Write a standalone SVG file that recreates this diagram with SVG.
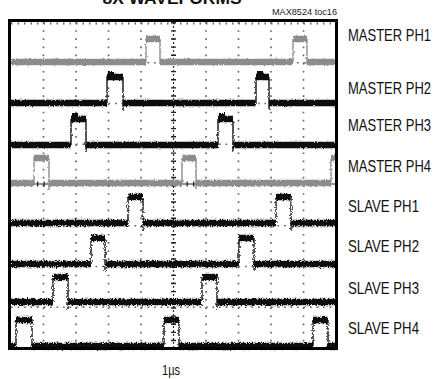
<svg xmlns="http://www.w3.org/2000/svg" width="437" height="379" viewBox="0 0 437 379">
<style>
.lbl{font-family:"Liberation Sans",Arial,sans-serif;font-size:17px;fill:#111}
.sm{font-family:"Liberation Sans",Arial,sans-serif;font-size:8.5px;fill:#222}
.ttl{font-family:"Liberation Sans",Arial,sans-serif;font-size:17px;font-weight:bold;fill:#111}
.gv{stroke:#666;stroke-width:1.7;stroke-dasharray:1.7 6.45;fill:none}
.gh{stroke:#666;stroke-width:1.7;stroke-dasharray:1.7 4.8;fill:none}
.gy{stroke:#8c8c8c;fill:none}
.bk{stroke:#111;fill:none}
.band{stroke-width:6.5}
.edge{stroke-width:1.4}
</style>
<defs>
<filter id="jit" filterUnits="userSpaceOnUse" x="0" y="0" width="437" height="379">
<feTurbulence type="fractalNoise" baseFrequency="0.9 0.45" numOctaves="1" seed="4" result="t"/>
<feDisplacementMap in="SourceGraphic" in2="t" scale="3" xChannelSelector="R" yChannelSelector="G"/>
</filter>
<filter id="jit2" filterUnits="userSpaceOnUse" x="0" y="0" width="437" height="379">
<feTurbulence type="fractalNoise" baseFrequency="1.2 0.6" numOctaves="2" seed="9" result="t"/>
<feDisplacementMap in="SourceGraphic" in2="t" scale="5" xChannelSelector="R" yChannelSelector="G"/>
</filter>
</defs>
<text class="ttl" x="172" y="3.5" text-anchor="middle" textLength="139" lengthAdjust="spacingAndGlyphs">8X WAVEFORMS</text>
<text class="sm" x="337" y="15" text-anchor="end" textLength="65" lengthAdjust="spacingAndGlyphs">MAX8524 toc16</text>
<g id="grid">
<rect x="11" y="22" width="325" height="326" fill="#fff"/>
<path class="gv" d="M43.5 22V348M76 22V348M108.5 22V348M141 22V348M206 22V348M238.5 22V348M271 22V348M303.5 22V348"/>
<path class="gh" d="M11 62.75H336M11 103.5H336M11 144.25H336M11 225.75H336M11 266.5H336M11 307.25H336"/>
<path d="M11 23.5H336" stroke="#666" stroke-width="2" stroke-dasharray="1.5 5" fill="none"/>
<path d="M173.5 22V348" stroke="#333" stroke-width="1.2" stroke-dasharray="2 2" fill="none"/>
<path d="M173.5 22V348" stroke="#222" stroke-width="5" stroke-dasharray="1.4 6.75" fill="none"/>
<path d="M11 184H336" stroke="#222" stroke-width="1.2" fill="none"/>
<path d="M11 184H336" stroke="#222" stroke-width="5" stroke-dasharray="1.3 5.2" fill="none"/>
</g>
<g id="traces">
<g id="master-ph1" class="gy" filter="url(#jit)">
<path class="band" d="M11 62H146M160 62H293M307 62H336M146 39H160M293 39H307"/>
<path class="edge" d="M146 62V39M160 39V64M293 62V39M307 39V64"/>
</g>
<g id="master-ph2" class="bk" filter="url(#jit)">
<path class="band" stroke-width="7.5" d="M11 103H107M123 103H256M269 103H336M107 77H123M256 77H269"/>
<path stroke-width="4" d="M108 73H114M257 73H263"/>
<path class="edge" d="M107 103V77M123 77V110M256 103V77M269 77V110"/>
</g>
<g id="master-ph3" class="bk" filter="url(#jit)">
<path class="band" stroke-width="7.5" d="M11 145H71M86 145H218M233 145H336M71 119H86M218 119H233"/>
<path stroke-width="4" d="M72 115H78M219 115H225"/>
<path class="edge" d="M71 145V119M86 119V152M218 145V119M233 119V152"/>
</g>
<g id="master-ph4" class="gy" filter="url(#jit)">
<path class="band" d="M11 183H34M49 183H182M196 183H331M34 158H49M182 158H196M331 158H336"/>
<path class="edge" d="M34 183V158M49 158V190M182 183V158M196 158V190M331 183V158"/>
</g>
<g id="slave-ph1" class="bk" filter="url(#jit2)">
<path class="band" d="M11 223H128M143 223H276M291 223H336M128 197H143M276 197H291"/>
<path class="edge" d="M128 223V197M143 197V230M276 223V197M291 197V230"/>
</g>
<g id="slave-ph2" class="bk" filter="url(#jit2)">
<path class="band" d="M11 264H91M105 264H239M254 264H336M91 238H105M239 238H254"/>
<path class="edge" d="M91 264V238M105 238V271M239 264V238M254 238V271"/>
</g>
<g id="slave-ph3" class="bk" filter="url(#jit2)">
<path class="band" d="M11 302H53M68 302H202M217 302H336M53 277H68M202 277H217"/>
<path class="edge" d="M53 302V277M68 277V309M202 302V277M217 277V309"/>
</g>
<g id="slave-ph4" class="bk" filter="url(#jit2)">
<path class="band" d="M11 346H16M32 346H164M179 346H313M328 346H336M16 320H32M164 320H179M313 320H328"/>
<path class="edge" d="M16 346V320M32 320V348M164 346V320M179 320V348M313 346V320M328 320V348"/>
</g>
</g>
<rect id="frame" x="9.5" y="20.5" width="327" height="328" fill="none" stroke="#000" stroke-width="3"/>
<g id="labels">
<text class="lbl" x="348" y="41" textLength="83" lengthAdjust="spacingAndGlyphs">MASTER PH1</text>
<text class="lbl" x="348" y="94" textLength="83" lengthAdjust="spacingAndGlyphs">MASTER PH2</text>
<text class="lbl" x="348" y="131" textLength="83" lengthAdjust="spacingAndGlyphs">MASTER PH3</text>
<text class="lbl" x="348" y="172" textLength="83" lengthAdjust="spacingAndGlyphs">MASTER PH4</text>
<text class="lbl" x="348" y="212" textLength="71" lengthAdjust="spacingAndGlyphs">SLAVE PH1</text>
<text class="lbl" x="348" y="252" textLength="71" lengthAdjust="spacingAndGlyphs">SLAVE PH2</text>
<text class="lbl" x="348" y="294" textLength="71" lengthAdjust="spacingAndGlyphs">SLAVE PH3</text>
<text class="lbl" x="348" y="334" textLength="71" lengthAdjust="spacingAndGlyphs">SLAVE PH4</text>
<text class="lbl" x="162" y="375" textLength="18" lengthAdjust="spacingAndGlyphs" style="font-size:15px">1µs</text>
</g>
</svg>
